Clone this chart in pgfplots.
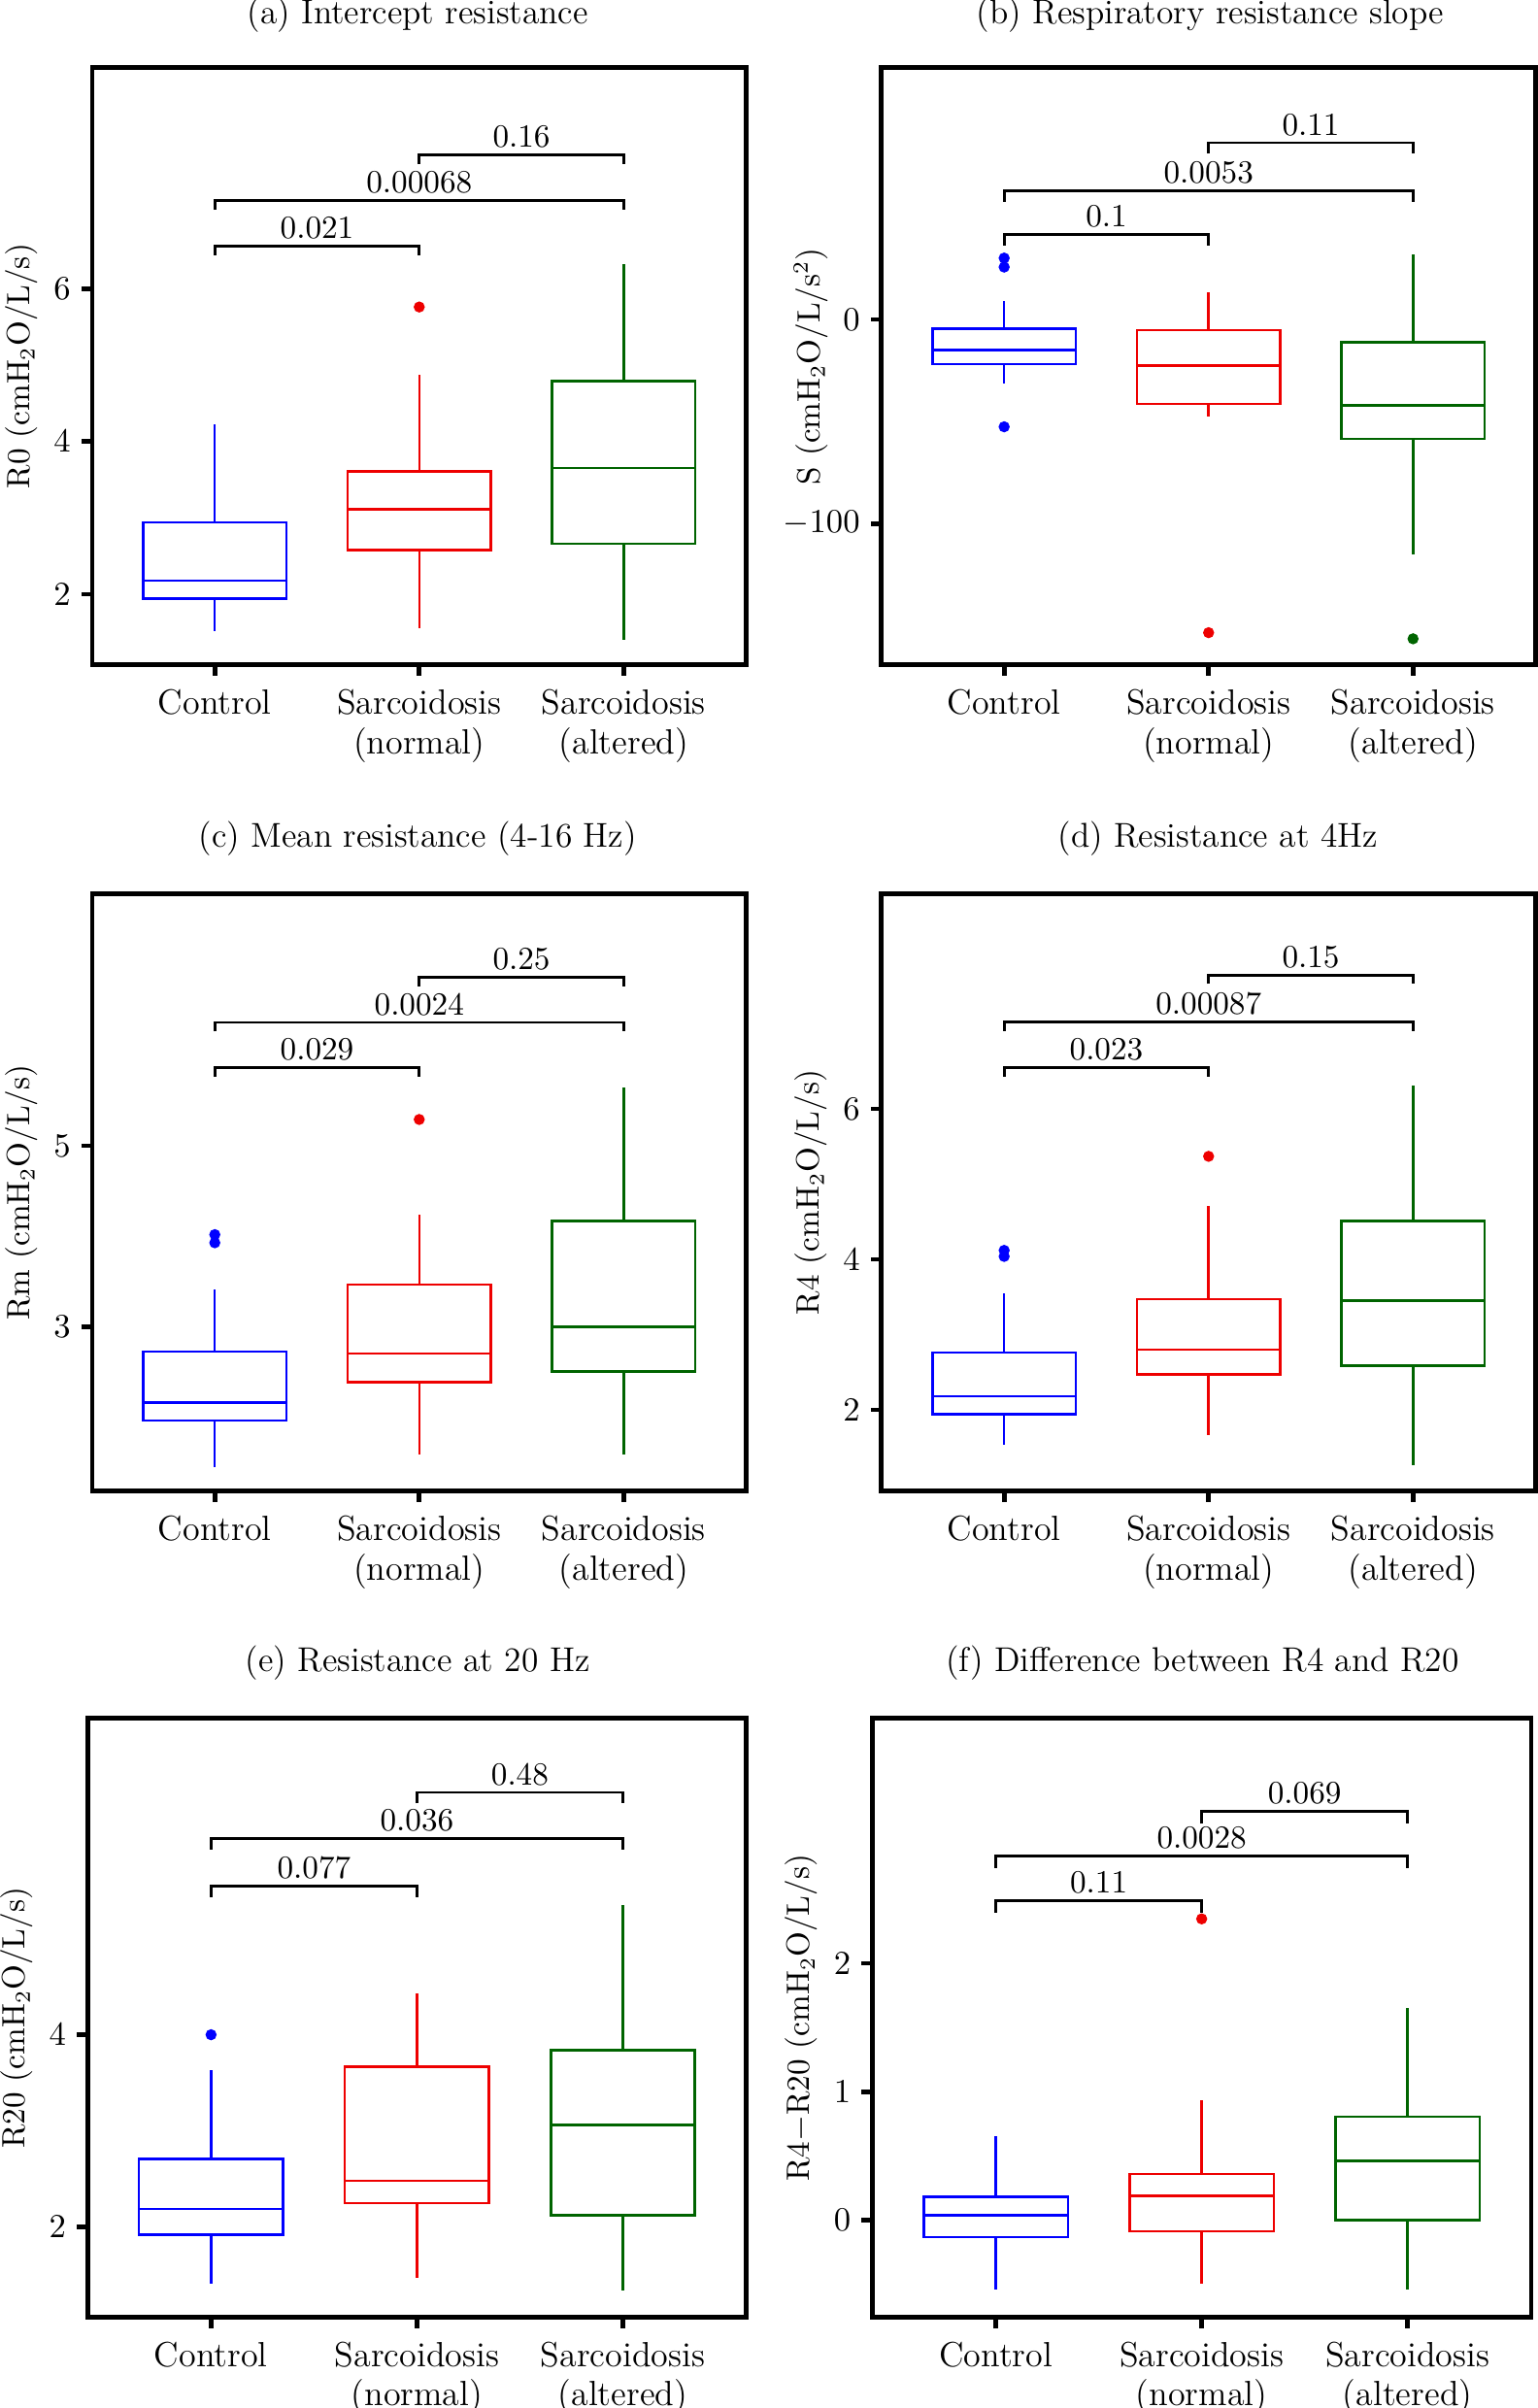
\documentclass[border=0pt]{standalone}
\usepackage{pgfplots}
\pgfplotsset{compat=1.18}
\usepgfplotslibrary{statistics}
\definecolor{cblue}{RGB}{0,0,255}
\definecolor{cred}{RGB}{238,0,0}
\definecolor{cgreen}{RGB}{0,100,0}
\pgfplotsset{
 panel/.style={scale only axis, width=213pt, height=194.5pt, anchor=south west,
  boxplot/draw direction=y,
  xmin=0.4, xmax=3.6, xtick={1,2,3},
  xticklabels={Control,{Sarcoidosis\\(normal)},{Sarcoidosis\\(altered)}},
  xticklabel style={align=center, font=\fontsize{11.4}{12.8}\selectfont, yshift=-1pt},
  yticklabel style={font=\fontsize{11.4}{12}\selectfont},
  ylabel style={font=\fontsize{10.5}{12}\selectfont, at={([xshift=-23pt]axis description cs:0,0.5)}, anchor=center},
  axis line style={line width=1.5pt},
  tick style={line width=1.5pt, black},
  tick align=outside, major tick length=3.5pt,
  xtick pos=bottom, ytick pos=left, clip=false},
}
\newcommand{\bx}[7]{\addplot[#1, line width=0.8pt, mark=none, boxplot prepared={draw position=#2, lower whisker=#3, lower quartile=#4, median=#5, upper quartile=#6, upper whisker=#7, box extend=0.7, whisker extend=0}] coordinates {};}
\newcommand{\outl}[2]{\addplot[only marks, mark=*, mark size=1.6pt, color=#1] coordinates {#2};}
% bracket: x1 x2 xmid y ybottom label
\newcommand{\brk}[6]{\addplot[black, line width=0.9pt, mark=none] coordinates {(#1,#5)(#1,#4)(#2,#4)(#2,#5)};
 \node[anchor=base, yshift=2.5pt, font=\fontsize{10.5}{12}\selectfont] at (axis cs:#3,#4) {#6};}
\begin{document}
\begin{tikzpicture}
\path[use as bounding box] (0pt,0pt) rectangle (500.5pt,784pt);
\tikzset{ttl/.style={font=\fontsize{11.2}{12}\selectfont}}
\node[ttl] at (136pt,779pt) {(a) Intercept resistance};
\node[ttl] at (394pt,779pt) {(b) Respiratory resistance slope};
\node[ttl] at (136pt,511pt) {(c) Mean resistance (4-16 Hz)};
\node[ttl] at (396.5pt,511pt) {(d) Resistance at 4Hz};
\node[ttl] at (136pt,242.5pt) {(e) Resistance at 20 Hz};
\node[ttl] at (391.5pt,242.5pt) {(f) Difference between R4 and R20};

% (a)
\begin{axis}[panel, at={(30pt,567.5pt)}, ymin=1.075, ymax=8.894, ytick={2,4,6}, ylabel={R0 (cmH$_2$O/L/s)}]
\bx{cblue}{1}{1.52}{1.94}{2.18}{2.94}{4.23}
\bx{cred}{2}{1.56}{2.58}{3.11}{3.61}{4.87}
\bx{cgreen}{3}{1.40}{2.66}{3.65}{4.79}{6.32}
\outl{cred}{(2,5.76)}
\brk{1}{2}{1.5}{6.56}{6.44}{0.021}
\brk{1}{3}{2}{7.15}{7.03}{0.00068}
\brk{2}{3}{2.5}{7.75}{7.63}{0.16}
\end{axis}

% (b)
\begin{axis}[panel, at={(287pt,567.5pt)}, ymin=-169.2, ymax=123.3, ytick={-100,0}, ylabel={S (cmH$_2$O/L/s$^2$)}]
\bx{cblue}{1}{-31.6}{-21.8}{-15}{-4.5}{9}
\bx{cred}{2}{-47.4}{-41.4}{-22.6}{-5.3}{13.5}
\bx{cgreen}{3}{-115}{-58.6}{-42}{-11.3}{31.6}
\outl{cblue}{(1,30)(1,25.6)(1,-52.6)}
\outl{cred}{(2,-153.4)}
\outl{cgreen}{(3,-156.4)}
\brk{1}{2}{1.5}{41.4}{36.1}{0.1}
\brk{1}{3}{2}{63}{57.7}{0.0053}
\brk{2}{3}{2.5}{86.5}{81.2}{0.11}
\end{axis}

% (c)
\begin{axis}[panel, at={(30pt,298.5pt)}, ymin=1.19, ymax=7.78, ytick={3,5}, ylabel={Rm (cmH$_2$O/L/s)}]
\bx{cblue}{1}{1.46}{1.97}{2.17}{2.73}{3.41}
\bx{cred}{2}{1.59}{2.39}{2.71}{3.47}{4.24}
\bx{cgreen}{3}{1.59}{2.51}{3.00}{4.17}{5.64}
\outl{cblue}{(1,4.02)(1,3.93)}
\outl{cred}{(2,5.29)}
\brk{1}{2}{1.5}{5.86}{5.76}{0.029}
\brk{1}{3}{2}{6.36}{6.26}{0.0024}
\brk{2}{3}{2.5}{6.86}{6.76}{0.25}
\end{axis}

% (d)
\begin{axis}[panel, at={(287pt,298.5pt)}, ymin=0.92, ymax=8.86, ytick={2,4,6}, ylabel={R4 (cmH$_2$O/L/s)}]
\bx{cblue}{1}{1.53}{1.94}{2.18}{2.76}{3.55}
\bx{cred}{2}{1.67}{2.47}{2.80}{3.47}{4.71}
\bx{cgreen}{3}{1.27}{2.59}{3.45}{4.51}{6.31}
\outl{cblue}{(1,4.12)(1,4.04)}
\outl{cred}{(2,5.37)}
\brk{1}{2}{1.5}{6.55}{6.43}{0.023}
\brk{1}{3}{2}{7.16}{7.04}{0.00087}
\brk{2}{3}{2.5}{7.78}{7.66}{0.15}
\end{axis}

% (e)
\begin{axis}[panel, at={(28.5pt,29.5pt)}, width=214.5pt, height=195pt, ymin=1.06, ymax=7.29, ytick={2,4}, ylabel={R20 (cmH$_2$O/L/s)}]
\bx{cblue}{1}{1.41}{1.92}{2.19}{2.71}{3.63}
\bx{cred}{2}{1.47}{2.25}{2.48}{3.67}{4.43}
\bx{cgreen}{3}{1.34}{2.12}{3.06}{3.84}{5.35}
\outl{cblue}{(1,4.0)}
\brk{1}{2}{1.5}{5.55}{5.435}{0.077}
\brk{1}{3}{2}{6.04}{5.925}{0.036}
\brk{2}{3}{2.5}{6.52}{6.405}{0.48}
\end{axis}

% (f)
\begin{axis}[panel, at={(284pt,29.5pt)}, width=214.5pt, height=195pt, ymin=-0.756, ymax=3.906, ytick={0,1,2}, ylabel={R4$-$R20 (cmH$_2$O/L/s)}]
\bx{cblue}{1}{-0.541}{-0.132}{0.038}{0.184}{0.654}
\bx{cred}{2}{-0.492}{-0.086}{0.192}{0.361}{0.932}
\bx{cgreen}{3}{-0.541}{0.0}{0.462}{0.805}{1.650}
\outl{cred}{(2,2.346)}
\brk{1}{2}{1.5}{2.489}{2.395}{0.11}
\brk{1}{3}{2}{2.835}{2.741}{0.0028}
\brk{2}{3}{2.5}{3.18}{3.086}{0.069}
\end{axis}
\end{tikzpicture}
\end{document}
